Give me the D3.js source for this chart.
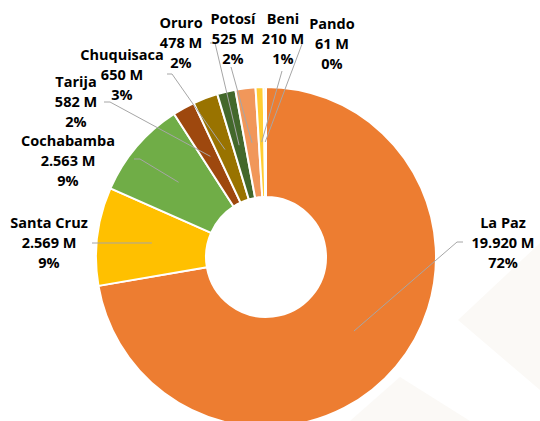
<!DOCTYPE html>
<html>
<head>
<meta charset="utf-8">
<script src="https://cdn.jsdelivr.net/npm/d3@7"></script>
<style>
  html, body { margin: 0; padding: 0; background: #ffffff; }
  svg { display: block; }
  text { font-family: "Open Sans", "Noto Sans", sans-serif; font-weight: 700; fill: #000; }
</style>
</head>
<body>
<svg id="chart" width="540" height="421"></svg>
<script>
// ---- data ----
const departments = ["La Paz", "Santa Cruz", "Cochabamba", "Tarija", "Chuquisaca", "Oruro", "Potosí", "Beni", "Pando"];
const values = [19920, 2569, 2563, 582, 650, 478, 525, 210, 61];
const valueLabels = ["19.920 M", "2.569 M", "2.563 M", "582 M", "650 M", "478 M", "525 M", "210 M", "61 M"];
const percentLabels = ["72%", "9%", "9%", "2%", "3%", "2%", "2%", "1%", "0%"];
const colors = ["#ED7D31", "#FFC000", "#70AD47", "#9E480E", "#997300", "#43682B", "#F1975A", "#FFCD33", "#FBEBC4"];

// ---- layout (label placement; line ends come from arc centroids) ----
const labelPos = [
  { x: 503, y: 223, line: [[463, 242], [457, 242]] },
  { x: 49,  y: 223, line: [[92, 243], [97, 243]] },
  { x: 68,  y: 141, line: [[134, 159], [140, 159]] },
  { x: 76,  y: 82,  line: [[104, 102], [110, 102]] },
  { x: 122, y: 55,  line: [[167, 74], [172, 74]] },
  { x: 181, y: 23,  line: [[210, 43], [215, 43]] },
  { x: 233, y: 19,  line: [[231, 67]] },
  { x: 283, y: 19,  line: [[282, 71]] },
  { x: 332, y: 24,  line: [[302, 44]] }
];

const cx = 266, cy = 257, outerR = 170, innerR = 60;
const svg = d3.select("#chart");

// faint background watermark shapes
const bg = svg.append("g");
bg.append("polygon").attr("points", "458,320 540,243 540,390").attr("fill", "#FBF9F6");
bg.append("polygon").attr("points", "400,377 350,421 470,421").attr("fill", "#FBF9F6");

const pie = d3.pie().value(d => d).sort(null).startAngle(0).endAngle(2 * Math.PI);
const arcs = pie(values);
const arc = d3.arc().innerRadius(innerR).outerRadius(outerR);
const midArc = d3.arc().innerRadius((innerR + outerR) / 2).outerRadius((innerR + outerR) / 2);

const g = svg.append("g").attr("transform", `translate(${cx},${cy})`);
g.selectAll("path.slice")
  .data(arcs)
  .join("path")
  .attr("class", "slice")
  .attr("d", arc)
  .attr("fill", (d, i) => colors[i])
  .attr("stroke", "#ffffff")
  .attr("stroke-width", 2)
  .attr("stroke-linejoin", "round");

// leader lines
const lineGen = d3.line();
svg.append("g").selectAll("path.leader")
  .data(arcs)
  .join("path")
  .attr("class", "leader")
  .attr("d", (d, i) => {
    const c = midArc.centroid(d);
    const pts = labelPos[i].line.concat([[cx + c[0], cy + c[1]]]);
    return lineGen(pts);
  })
  .attr("fill", "none")
  .attr("stroke", "#A6A6A6")
  .attr("stroke-width", 1);

// labels
const labels = svg.append("g").selectAll("text.lbl")
  .data(departments)
  .join("text")
  .attr("class", "lbl")
  .attr("text-anchor", "middle")
  .style("font-size", "14.5px");

labels.each(function (name, i) {
  const t = d3.select(this);
  const p = labelPos[i];
  [name, valueLabels[i], percentLabels[i]].forEach((s, k) => {
    t.append("tspan")
      .attr("x", p.x)
      .attr("y", p.y + k * 20)
      .attr("dy", "0.36em")
      .text(s);
  });
});
</script>
</body>
</html>
